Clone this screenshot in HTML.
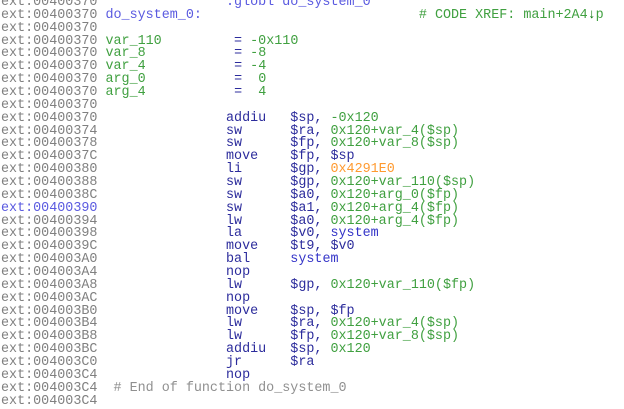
<!DOCTYPE html>
<html><head><meta charset="utf-8"><style>
html,body{margin:0;padding:0;background:#fff;width:624px;height:404px;overflow:hidden}
pre{position:absolute;left:1px;top:-3px;margin:0;font-family:"Liberation Mono",monospace;font-size:13.4px;letter-spacing:0px;line-height:12.86px;color:#808080;white-space:pre}
.b{color:#2c2c9c}.l{color:#5a5ae0}.g{color:#40a040}.o{color:#ff9a30}.s{color:#3434c8}.c{color:#909090}.h{color:#5a5ae0}.x{color:#40a040}.k{color:#007000;font-weight:bold}
</style></head><body><pre>ext:00400370                <span class="l">.globl do_system_0</span>
ext:00400370 <span class="l">do_system_0:</span>                           <span class="x"># CODE XREF: main+2A4</span><span class="k">↓</span><span class="x">p</span>
ext:00400370
ext:00400370 <span class="g">var_110</span>         <span class="b">=</span> <span class="g">-0x110</span>
ext:00400370 <span class="g">var_8</span>           <span class="b">=</span> <span class="g">-8</span>
ext:00400370 <span class="g">var_4</span>           <span class="b">=</span> <span class="g">-4</span>
ext:00400370 <span class="g">arg_0</span>           <span class="b">=</span>  <span class="g">0</span>
ext:00400370 <span class="g">arg_4</span>           <span class="b">=</span>  <span class="g">4</span>
ext:00400370
ext:00400370                <span class="b">addiu   $sp, </span><span class="g">-0x120</span>
ext:00400374                <span class="b">sw      $ra, </span><span class="g">0x120+var_4($sp)</span>
ext:00400378                <span class="b">sw      $fp, </span><span class="g">0x120+var_8($sp)</span>
ext:0040037C                <span class="b">move    $fp, $sp</span>
ext:00400380                <span class="b">li      $gp, </span><span class="o">0x4291E0</span>
ext:00400388                <span class="b">sw      $gp, </span><span class="g">0x120+var_110($sp)</span>
ext:0040038C                <span class="b">sw      $a0, </span><span class="g">0x120+arg_0($fp)</span>
<span class="h">ext:00400390</span>                <span class="b">sw      $a1, </span><span class="g">0x120+arg_4($fp)</span>
ext:00400394                <span class="b">lw      $a0, </span><span class="g">0x120+arg_4($fp)</span>
ext:00400398                <span class="b">la      $v0, </span><span class="s">system</span>
ext:0040039C                <span class="b">move    $t9, $v0</span>
ext:004003A0                <span class="b">bal     </span><span class="s">system</span>
ext:004003A4                <span class="b">nop</span>
ext:004003A8                <span class="b">lw      $gp, </span><span class="g">0x120+var_110($fp)</span>
ext:004003AC                <span class="b">nop</span>
ext:004003B0                <span class="b">move    $sp, $fp</span>
ext:004003B4                <span class="b">lw      $ra, </span><span class="g">0x120+var_4($sp)</span>
ext:004003B8                <span class="b">lw      $fp, </span><span class="g">0x120+var_8($sp)</span>
ext:004003BC                <span class="b">addiu   $sp, </span><span class="g">0x120</span>
ext:004003C0                <span class="b">jr      $ra</span>
ext:004003C4                <span class="b">nop</span>
ext:004003C4  <span class="c"># End of function do_system_0</span>
ext:004003C4
</pre></body></html>
